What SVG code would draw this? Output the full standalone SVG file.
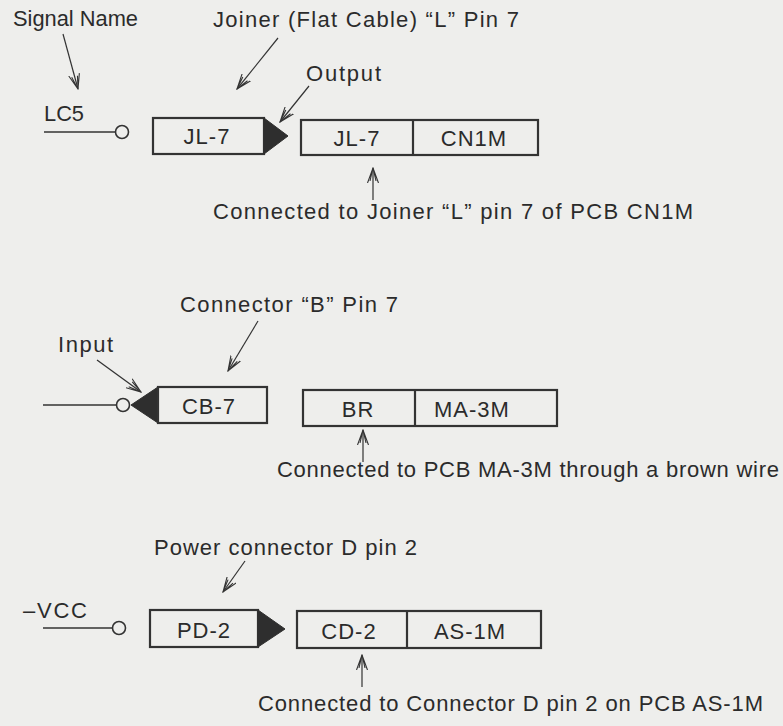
<svg xmlns="http://www.w3.org/2000/svg" width="783" height="726" viewBox="0 0 783 726">
<defs>
<style>
.t{font-family:"Liberation Sans",Arial,sans-serif;font-size:22px;fill:#2b2b2b}
.b{font-family:"Liberation Sans",Arial,sans-serif;font-size:22px;letter-spacing:1px;fill:#2b2b2b;text-anchor:middle}
.box{fill:none;stroke:#333;stroke-width:2.2}
.tri{fill:#2e2e2e;stroke:#2e2e2e;stroke-width:1}
.w{stroke:#333;stroke-width:1.6;fill:none}
.pin{fill:#eeeeec;stroke:#333;stroke-width:1.6}
.a{stroke:#333;stroke-width:1.2;fill:none;marker-end:url(#v)}
</style>
<marker id="v" viewBox="0 0 16 12" refX="15" refY="6" markerWidth="16" markerHeight="12" markerUnits="userSpaceOnUse" orient="auto">
<path d="M0,0.5 L15,6 L0,11.5 M2,3 L15,6 L2,9" fill="none" stroke="#333" stroke-width="1.1"/>
</marker>
</defs>
<rect width="783" height="726" fill="#eeeeec"/>

<g id="labels">
<text class="t" x="13" y="26" textLength="125" lengthAdjust="spacingAndGlyphs">Signal Name</text>
<text class="t" x="213" y="27" textLength="306" lengthAdjust="spacing">Joiner (Flat Cable) “L” Pin 7</text>
<text class="t" x="306" y="81" textLength="75" lengthAdjust="spacing">Output</text>
<text class="t" x="213" y="219" textLength="480" lengthAdjust="spacing">Connected to Joiner “L” pin 7 of PCB CN1M</text>
<text class="t" x="180" y="312" textLength="218" lengthAdjust="spacing">Connector “B” Pin 7</text>
<text class="t" x="58" y="352" textLength="55" lengthAdjust="spacing">Input</text>
<text class="t" x="277" y="477" textLength="502" lengthAdjust="spacing">Connected to PCB MA-3M through a brown wire</text>
<text class="t" x="154" y="555" textLength="263" lengthAdjust="spacing">Power connector D pin 2</text>
<text class="t" x="258" y="711" textLength="505" lengthAdjust="spacing">Connected to Connector D pin 2 on PCB AS-1M</text>
</g>

<g id="signal-LC5">
<text class="t" x="44" y="121" textLength="40" lengthAdjust="spacingAndGlyphs">LC5</text>
<line class="w" x1="44" y1="132" x2="115.5" y2="132"/>
<circle class="pin" cx="122" cy="132" r="6.5"/>
</g>
<g id="JL-7-out">
<rect class="box" x="153" y="118" width="111" height="36"/>
<polygon class="tri" points="264,118 288,136 264,154"/>
<text class="b" x="207" y="144">JL-7</text>
</g>
<g id="JL-7-CN1M">
<rect class="box" x="301" y="120" width="237" height="35"/>
<line class="box" x1="413" y1="120" x2="413" y2="155"/>
<text class="b" x="357" y="146">JL-7</text>
<text class="b" x="474" y="146">CN1M</text>
</g>

<g id="signal-input">
<line class="w" x1="43" y1="405" x2="116.5" y2="405"/>
<circle class="pin" cx="123" cy="405" r="6.5"/>
</g>
<g id="CB-7-in">
<polygon class="tri" points="158,387 131,405 158,423"/>
<rect class="box" x="158" y="387" width="109" height="36"/>
<text class="b" x="209" y="414">CB-7</text>
</g>
<g id="BR-MA-3M">
<rect class="box" x="303" y="390" width="254" height="36"/>
<line class="box" x1="415" y1="390" x2="415" y2="426"/>
<text class="b" x="358" y="417">BR</text>
<text class="b" x="472" y="417">MA-3M</text>
</g>

<g id="signal-VCC">
<text class="t" x="23" y="618" textLength="64" lengthAdjust="spacing">–VCC</text>
<line class="w" x1="43" y1="628" x2="112.5" y2="628"/>
<circle class="pin" cx="119" cy="628" r="6.5"/>
</g>
<g id="PD-2-out">
<rect class="box" x="150" y="610" width="108" height="37"/>
<polygon class="tri" points="258,610 285,629 258,647"/>
<text class="b" x="204" y="638">PD-2</text>
</g>
<g id="CD-2-AS-1M">
<rect class="box" x="297" y="611" width="244" height="37"/>
<line class="box" x1="407" y1="611" x2="407" y2="648"/>
<text class="b" x="349" y="639">CD-2</text>
<text class="b" x="470" y="639">AS-1M</text>
</g>

<g id="connectors">
<line class="a" x1="63" y1="34" x2="78" y2="89"/>
<line class="a" x1="278" y1="38" x2="237" y2="89"/>
<line class="a" x1="309" y1="86" x2="280" y2="122"/>
<line class="a" x1="373" y1="200" x2="373" y2="168"/>
<line class="a" x1="258" y1="321" x2="228" y2="371"/>
<line class="a" x1="97" y1="360" x2="141" y2="392"/>
<line class="a" x1="363" y1="462" x2="363" y2="430"/>
<line class="a" x1="245" y1="561" x2="223" y2="592"/>
<line class="a" x1="362" y1="687" x2="362" y2="655"/>
</g>
</svg>
